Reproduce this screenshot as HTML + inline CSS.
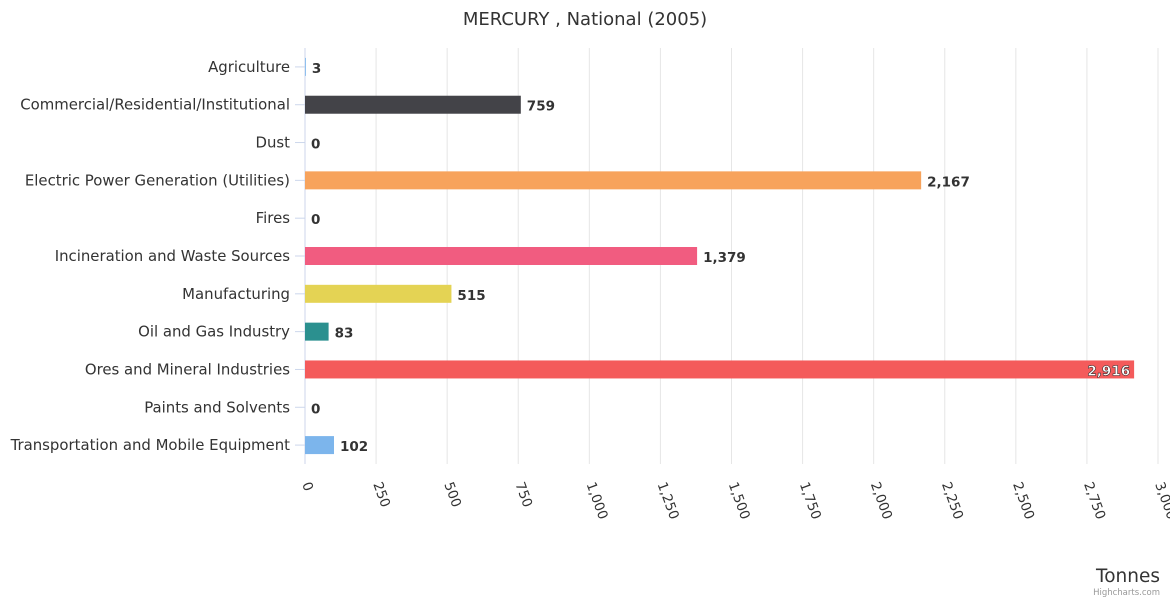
<!DOCTYPE html>
<html><head><meta charset="utf-8"><style>
body{margin:0;background:#fff;font-family:"DejaVu Sans","Liberation Sans",sans-serif}
svg text{font-family:"DejaVu Sans","Liberation Sans",sans-serif}
</style></head><body>
<svg id="c" width="1170" height="600">
<rect width="1170" height="600" fill="#fff"/>
<text x="585" y="25" text-anchor="middle" font-size="18" fill="#333">MERCURY , National (2005)</text>
<g id="grid"></g><g id="bars"></g><g id="ylab"></g><g id="xlab"></g>
<text x="1160" y="582" text-anchor="end" font-size="18.5" fill="#333">Tonnes</text>
<text x="1160" y="595" text-anchor="end" font-size="8.5" fill="#999">Highcharts.com</text>
</svg>
<script>
const categories=["Agriculture","Commercial/Residential/Institutional","Dust","Electric Power Generation (Utilities)","Fires","Incineration and Waste Sources","Manufacturing","Oil and Gas Industry","Ores and Mineral Industries","Paints and Solvents","Transportation and Mobile Equipment"];
const values=[3,759,0,2167,0,1379,515,83,2916,0,102];
const labels=["3","759","0","2,167","0","1,379","515","83","2,916","0","102"];
const ticks=[0,250,500,750,1000,1250,1500,1750,2000,2250,2500,2750,3000];
const tickLabels=["0","250","500","750","1,000","1,250","1,500","1,750","2,000","2,250","2,500","2,750","3,000"];
const colors=["#7cb5ec","#434348","#90ed7d","#f7a35c","#8085e9","#f15c80","#e4d354","#2b908f","#f45b5b","#91e8e1","#7cb5ec"];
const NS="http://www.w3.org/2000/svg";
const X0=305,X1=1158,Y0=48,Y1=464;
const xs=v=>X0+(v-0)/(3000)*(X1-X0);
const band=(Y1-Y0)/categories.length;
const yc=i=>Y0+band*(i+0.5);
function mk(t,a,p){const e=document.createElementNS(NS,t);for(const k in a)e.setAttribute(k,a[k]);document.getElementById(p).appendChild(e);return e;}
ticks.forEach((t,i)=>{
 const g=mk('line',{x1:xs(t),x2:xs(t),y1:Y0,y2:Y1,stroke:'#e6e6e6'},'grid');
 
 
 const x=xs(t)-3,y=484;
 const l=mk('text',{x:x,y:y,'font-size':13.5,fill:'#333',transform:`rotate(70 ${x} ${y})`},'xlab');
 l.textContent=tickLabels[i];
 
 
});
const ax=mk('line',{x1:X0,x2:X0,y1:Y0,y2:Y1,stroke:'#ccd6eb'},'grid');


categories.forEach((c,i)=>{
 const y=yc(i);
 const tk=mk('line',{x1:X0-10,x2:X0,y1:y,y2:y,stroke:'#ccd6eb'},'ylab');
 
 
 const t=mk('text',{x:290,y:y+5,'text-anchor':'end','font-size':14.9,fill:'#333'},'ylab');
 t.textContent=c;
 
 
 const w=xs(values[i])-X0;
 const b=mk('rect',{x:X0,y:y-9,width:w,height:18,fill:colors[i]},'bars');
 
 
 const inside=w>780;
 const lt=mk('text',{x:inside?xs(values[i])-4:xs(values[i])+6,y:y+6,'text-anchor':inside?'end':'start','font-size':13.5,'font-weight':'bold',fill:inside?'#fff':'#333',stroke:inside?'#333':'none','stroke-width':inside?0.6:0},'bars');
 lt.textContent=labels[i];
 
 
});
</script>
</body></html>
